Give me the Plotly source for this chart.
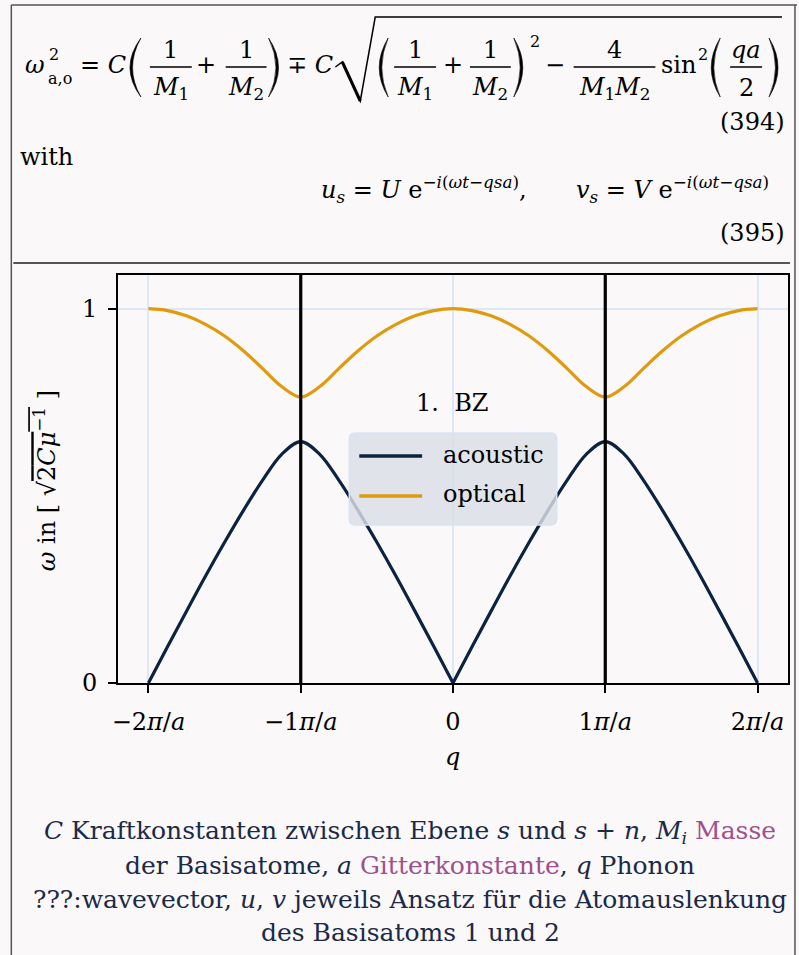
import plotly.graph_objects as go

# ---------------- data (q in units of pi/a, omega in units of sqrt(2C/mu)) -------------
q = [-2.0, -1.875, -1.75, -1.625, -1.5, -1.375, -1.25, -1.125, -1.0,
     -0.875, -0.75, -0.625, -0.5, -0.375, -0.25, -0.125, 0.0,
     0.125, 0.25, 0.375, 0.5, 0.625, 0.75, 0.875, 1.0,
     1.125, 1.25, 1.375, 1.5, 1.625, 1.75, 1.875, 2.0]
acoustic = [0.0, 0.097, 0.192, 0.286, 0.376, 0.462, 0.542, 0.611, 0.645,
            0.611, 0.542, 0.462, 0.376, 0.286, 0.192, 0.097, 0.0,
            0.097, 0.192, 0.286, 0.376, 0.462, 0.542, 0.611, 0.645,
            0.611, 0.542, 0.462, 0.376, 0.286, 0.192, 0.097, 0.0]
optical = [1.0, 0.995, 0.981, 0.958, 0.927, 0.887, 0.840, 0.792, 0.764,
           0.792, 0.840, 0.887, 0.927, 0.958, 0.981, 0.995, 1.0,
           0.995, 0.981, 0.958, 0.927, 0.887, 0.840, 0.792, 0.764,
           0.792, 0.840, 0.887, 0.927, 0.958, 0.981, 0.995, 1.0]
zone_bounds = [-1.0, 1.0]
x_tickvals = [-2, -1, 0, 1, 2]
x_ticktext = ["−2<i>π</i>/<i>a</i>", "−1<i>π</i>/<i>a</i>", "0", "1<i>π</i>/<i>a</i>", "2<i>π</i>/<i>a</i>"]
y_tickvals = [0, 1]
y_ticktext = ["0", "1"]
series_names = ["acoustic", "optical"]

# ---------------- style ----------------
SERIF = "DejaVu Serif"
BG = "#faf8f9"
NAVY = "#0b2341"
ORANGE = "#df9a0e"
GRID = "#dce8f6"
CAP = "#1b2a47"
PURPLE = "#a0508c"
FS = 24
SUBFS = 16

W, H = 799, 955
L, R, T, B = 118, 790, 275, 683


def px(x):
    return (x - L) / (R - L)


def py(y):
    return (B - y) / (B - T)


fig = go.Figure()

# acoustic branch drawn per Brillouin-zone half so the cusp at q=0 stays sharp
i0 = q.index(0.0)
fig.add_trace(go.Scatter(x=q[:i0 + 1], y=acoustic[:i0 + 1], mode="lines", name=series_names[0],
                         line=dict(color=NAVY, width=3.2, shape="spline"), legendgroup="a",
                         showlegend=False, hoverinfo="skip"))
fig.add_trace(go.Scatter(x=q[i0:], y=acoustic[i0:], mode="lines", name=series_names[0],
                         line=dict(color=NAVY, width=3.2, shape="spline"), legendgroup="a",
                         showlegend=False, hoverinfo="skip"))
fig.add_trace(go.Scatter(x=q, y=optical, mode="lines", name=series_names[1],
                         line=dict(color=ORANGE, width=3.2, shape="spline"),
                         showlegend=False, hoverinfo="skip"))

# Brillouin zone boundaries
for zb in zone_bounds:
    fig.add_shape(type="line", xref="x", yref="paper", x0=zb, x1=zb, y0=0, y1=1,
                  line=dict(color="black", width=3.2), layer="above")

axis_common = dict(showline=True, linecolor="black", linewidth=2, mirror=True,
                   ticks="outside", ticklen=8, tickwidth=2, tickcolor="black",
                   showgrid=True, gridcolor=GRID, gridwidth=1.5, zeroline=False,
                   tickfont=dict(family=SERIF, size=FS, color="black"))
fig.update_xaxes(range=[-2.2, 2.2], tickvals=x_tickvals, ticktext=x_ticktext,
                 ticklabelstandoff=8, **axis_common)
fig.update_yaxes(range=[0, 1.09], tickvals=y_tickvals, ticktext=y_ticktext,
                 ticklabelstandoff=6, **axis_common)

fig.update_layout(width=W, height=H, margin=dict(l=L, r=W - R, t=T, b=H - B),
                  paper_bgcolor=BG, plot_bgcolor=BG, showlegend=False,
                  font=dict(family=SERIF, size=FS, color="black"))


def text(x, y, s, size=FS, anchor="left", color="black", angle=0):
    fig.add_annotation(x=px(x), y=py(y), xref="paper", yref="paper", text=s,
                       showarrow=False, xanchor=anchor, yanchor="middle",
                       font=dict(family=SERIF, size=size, color=color), textangle=angle,
                       borderpad=0)


def seg(x0, y0, x1, y1, w=1.5, color="black"):
    fig.add_shape(type="line", xref="paper", yref="paper", x0=px(x0), y0=py(y0),
                  x1=px(x1), y1=py(y1), line=dict(color=color, width=w), layer="above")


def paren(xm, xe, yt=38, yb=97, t=2.6):
    sgn = 1 if xm < xe else -1
    ym = (yt + yb) / 2
    c1 = 2 * xm - xe
    c2 = 2 * (xm + sgn * t) - xe
    path = (f"M {px(xe)},{py(yt)} Q {px(c1)},{py(ym)} {px(xe)},{py(yb)} "
            f"Q {px(c2)},{py(ym)} {px(xe)},{py(yt)} Z")
    fig.add_shape(type="path", xref="paper", yref="paper", path=path,
                  fillcolor="black", line=dict(color="black", width=0.6), layer="above")


def frac(x0, x1, num, den, ybar=67):
    seg(x0, ybar, x1, ybar, w=1.4)
    xc = (x0 + x1) / 2
    text(xc, 50, num, anchor="center")
    text(xc, 88, den, anchor="center")


# ---------------- page frame ----------------
seg(11, 5, 799, 5, w=1.5, color="#555555")
seg(11, 5, 11, 955, w=1.5, color="#555555")
seg(797, 5, 797, 955, w=1.5, color="#555555")
seg(13, 263, 792, 263, w=1.8, color="#555555")

# ---------------- equation (394) ----------------
M1 = "<i>M</i><sub>1</sub>"
M2 = "<i>M</i><sub>2</sub>"
MAIN_Y = 65
text(24, MAIN_Y, "<i>ω</i>")
text(48, 55, "2", size=SUBFS)
text(47, 79, "a,o", size=SUBFS)
text(79, MAIN_Y, "= <i>C</i>")
paren(130, 141)
frac(150, 192, "1", M1)
text(206, MAIN_Y, "+", anchor="center")
frac(226, 267, "1", M2)
paren(279, 269)
text(287, MAIN_Y, "∓ <i>C</i>")
# radical sign
fig.add_shape(type="path", xref="paper", yref="paper",
              path=(f"M {px(336)},{py(67)} L {px(343)},{py(62)} L {px(361)},{py(101)} "
                    f"L {px(376)},{py(17)} L {px(784)},{py(17)}"),
              line=dict(color="black", width=1.5), layer="above")
seg(343, 62, 361, 101, w=3)
paren(380, 389)
frac(395, 437, "1", M1)
text(454, MAIN_Y, "+", anchor="center")
frac(471, 512, "1", M2)
paren(524, 515)
text(530, 41, "2", size=SUBFS)
text(556, MAIN_Y, "−", anchor="center")
frac(575, 657, "4", M1 + M2)
text(662, MAIN_Y, "sin")
text(699, 55, "2", size=SUBFS)
paren(713, 722)
frac(732, 764, "<i>qa</i>", "2")
paren(780, 771)
text(788, 122, "(394)", anchor="right")

# ---------------- "with" and equation (395) ----------------
text(19, 157, "with")
text(321, 189, "<i>u</i><sub><i>s</i></sub> = <i>U</i> e<sup>−<i>i</i>(<i>ωt</i>−<i>qsa</i>)</sup>,")
text(576, 189, "<i>v</i><sub><i>s</i></sub> = <i>V</i> e<sup>−<i>i</i>(<i>ωt</i>−<i>qsa</i>)</sup>")
text(788, 233, "(395)", anchor="right")

# ---------------- axis titles ----------------
text(45, 481, "<i>ω</i> in [ √<span style='text-decoration:overline'>2<i>Cμ</i><sup>−1</sup></span> ]",
     anchor="center", angle=-90)
text(453, 757, "<i>q</i>", anchor="center")

# ---------------- plot annotations / legend ----------------
text(453, 403, "1.  BZ", anchor="center")

bx0, bx1, by0, by1, rr = 350, 558, 433, 525, 6
legend_path = (f"M {px(bx0 + rr)},{py(by0)} L {px(bx1 - rr)},{py(by0)} "
               f"Q {px(bx1)},{py(by0)} {px(bx1)},{py(by0 + rr)} L {px(bx1)},{py(by1 - rr)} "
               f"Q {px(bx1)},{py(by1)} {px(bx1 - rr)},{py(by1)} L {px(bx0 + rr)},{py(by1)} "
               f"Q {px(bx0)},{py(by1)} {px(bx0)},{py(by1 - rr)} L {px(bx0)},{py(by0 + rr)} "
               f"Q {px(bx0)},{py(by0)} {px(bx0 + rr)},{py(by0)} Z")
fig.add_shape(type="path", xref="paper", yref="paper", path=legend_path,
              fillcolor="rgba(218,223,231,0.82)", line=dict(color="#d8e4f3", width=1.5),
              layer="above")
seg(360, 456, 423, 456, w=3.5, color=NAVY)
seg(360, 496, 423, 496, w=3.5, color=ORANGE)
text(443, 455, series_names[0])
text(443, 494, series_names[1])

# ---------------- caption ----------------
caption = [
    "<i>C</i> Kraftkonstanten zwischen Ebene <i>s</i> und <i>s</i> + <i>n</i>, "
    f"<i>M</i><sub><i>i</i></sub> <span style='color:{PURPLE}'>Masse</span>",
    f"der Basisatome, <i>a</i> <span style='color:{PURPLE}'>Gitterkonstante</span>, <i>q</i> Phonon",
    "???:wavevector, <i>u</i>, <i>v</i> jeweils Ansatz für die Atomauslenkung",
    "des Basisatoms 1 und 2",
]
for k, line in enumerate(caption):
    text(411, 832 + 33.5 * k, line, size=25, anchor="center", color=CAP)

fig.write_html("out.html")
